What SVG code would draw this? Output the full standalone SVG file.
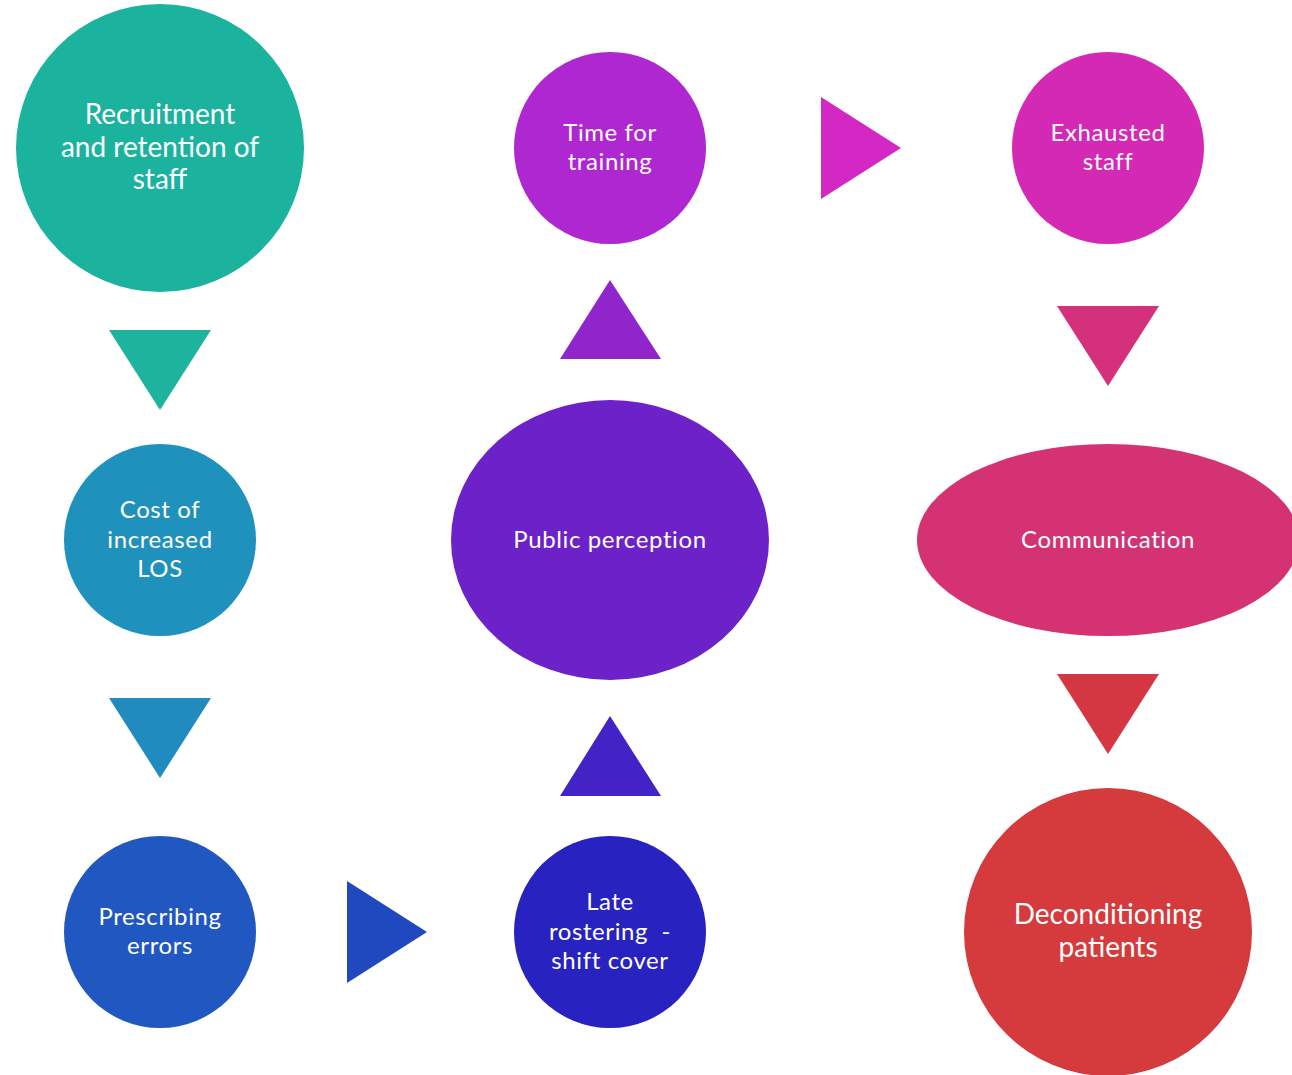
<svg xmlns="http://www.w3.org/2000/svg" width="1292" height="1075" viewBox="0 0 1292 1075">
  <style>
    .lbl { font-family: Lato, "Open Sans", "Liberation Sans", sans-serif; fill: #ffffff; text-anchor: middle; }
    .sm { font-size: 24px; letter-spacing: 0.6px; }
    .lg { font-size: 28px; }
  </style>
  <rect width="1292" height="1075" fill="#ffffff"/>

  <!-- flow arrows -->
  <g id="connectors">
    <polygon points="109,330 211,330 160,410" fill="#1DB39D"/>
    <polygon points="109,698 211,698 160,778" fill="#1F8BBE"/>
    <polygon points="347,881 347,983 427,932" fill="#2049C0"/>
    <polygon points="560,796 661,796 610,716" fill="#4322C6"/>
    <polygon points="560,359 661,359 610,280" fill="#9025CC"/>
    <polygon points="821,97 821,199 901,148" fill="#D328C4"/>
    <polygon points="1057,306 1159,306 1108,386" fill="#D4307C"/>
    <polygon points="1057,674 1159,674 1108,754" fill="#D43642"/>
  </g>

  <g id="recruitment">
    <circle cx="160" cy="148" r="144" fill="#1BB39D"/>
    <text class="lbl lg" x="160" y="124">Recruitment</text>
    <text class="lbl lg" x="160" y="157">and retention of</text>
    <text class="lbl lg" x="160" y="189">staff</text>
  </g>

  <g id="cost-los">
    <circle cx="160" cy="540" r="96" fill="#1F91BD"/>
    <text class="lbl sm" x="160" y="518">Cost of</text>
    <text class="lbl sm" x="160" y="548">increased</text>
    <text class="lbl sm" x="160" y="577">LOS</text>
  </g>

  <g id="prescribing-errors">
    <circle cx="160" cy="932" r="96" fill="#2157C0"/>
    <text class="lbl sm" x="160" y="925">Prescribing</text>
    <text class="lbl sm" x="160" y="954">errors</text>
  </g>

  <g id="late-rostering">
    <circle cx="610" cy="932" r="96" fill="#2722C0"/>
    <text class="lbl sm" x="610" y="910">Late</text>
    <text class="lbl sm" x="610" y="940" xml:space="preserve">rostering  -</text>
    <text class="lbl sm" x="610" y="969">shift cover</text>
  </g>

  <g id="public-perception">
    <ellipse cx="610" cy="540" rx="159" ry="140" fill="#6C22C8"/>
    <text class="lbl sm" x="610" y="548">Public perception</text>
  </g>

  <g id="time-for-training">
    <circle cx="610" cy="148" r="96" fill="#AF27D0"/>
    <text class="lbl sm" x="610" y="141">Time for</text>
    <text class="lbl sm" x="610" y="170">training</text>
  </g>

  <g id="exhausted-staff">
    <circle cx="1108" cy="148" r="96" fill="#D429B5"/>
    <text class="lbl sm" x="1108" y="141">Exhausted</text>
    <text class="lbl sm" x="1108" y="170">staff</text>
  </g>

  <g id="communication">
    <ellipse cx="1108" cy="540" rx="191" ry="96" fill="#D43273"/>
    <text class="lbl sm" x="1108" y="548">Communication</text>
  </g>

  <g id="deconditioning">
    <circle cx="1108" cy="932" r="144" fill="#D53A3C"/>
    <text class="lbl lg" x="1108" y="924">Deconditioning</text>
    <text class="lbl lg" x="1108" y="957">patients</text>
  </g>
</svg>
